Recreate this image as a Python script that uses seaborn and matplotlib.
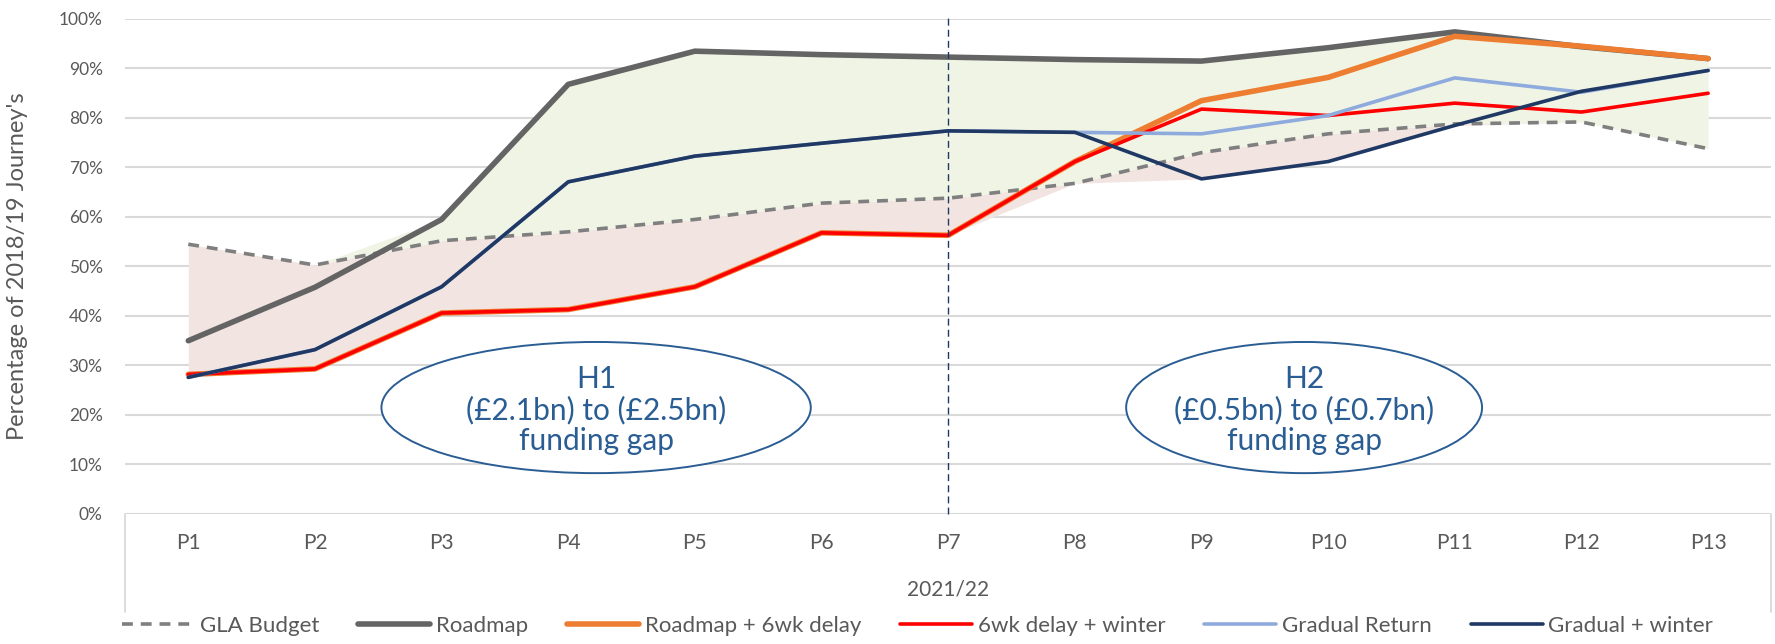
import numpy as np
import matplotlib
matplotlib.use("Agg")
import matplotlib.pyplot as plt
from matplotlib.patches import Ellipse
import seaborn as sns

# data (percent of 2018/19 journeys)
periods = ["P1", "P2", "P3", "P4", "P5", "P6", "P7", "P8", "P9", "P10", "P11", "P12", "P13"]
gla_budget = [54.5, 50.3, 55.2, 57.0, 59.5, 62.8, 63.8, 66.8, 73.0, 76.8, 78.8, 79.2, 73.8]
roadmap = [35.0, 45.8, 59.5, 86.8, 93.5, 92.8, 92.3, 91.8, 91.5, 94.2, 97.4, 94.4, 92.0]
roadmap_delay = [28.2, 29.3, 40.6, 41.3, 45.9, 56.8, 56.3, 71.2, 83.5, 88.2, 96.5, 94.5, 92.0]
delay_winter = [28.2, 29.3, 40.6, 41.3, 45.9, 56.8, 56.3, 71.2, 81.8, 80.5, 83.0, 81.2, 85.0]
gradual = [27.6, 33.2, 45.9, 67.1, 72.3, 74.9, 77.4, 77.1, 76.8, 80.5, 88.1, 85.2, 89.6]
gradual_winter = [27.6, 33.2, 45.9, 67.1, 72.3, 74.9, 77.4, 77.1, 67.7, 71.2, 78.5, 85.4, 89.6]
year_label = "2021/22"
gap_h1 = "H1\n(£2.1bn) to (£2.5bn)\nfunding gap"
gap_h2 = "H2\n(£0.5bn) to (£0.7bn)\nfunding gap"

sns.set_theme(style="white")
plt.rcParams['font.family'] = ['Lato', 'DejaVu Sans']

grey_txt = '#595959'
blue_txt = '#2A5D93'

fig = plt.figure(figsize=(17.75, 6.44), dpi=100)
ax = fig.add_axes([0.0704, 0.2019, 0.9276, 0.7686])

x = np.arange(len(periods))
budget = np.array(gla_budget)
scen = np.vstack([roadmap, roadmap_delay, delay_winter, gradual, gradual_winter])
low = np.minimum(scen.min(axis=0), budget)
high = np.maximum(scen.max(axis=0), budget)

# shaded bands between scenarios and budget
ax.fill_between(x, low, budget, color='#F2E4E1', lw=0, zorder=1)
ax.fill_between(x, budget, high, color='#EFF4E5', lw=0, zorder=1)

series = [
    ("GLA Budget", gla_budget, '#7F7F7F', 2.6, (0, (3, 2.2))),
    ("Roadmap", roadmap, '#646464', 4.0, '-'),
    ("Roadmap + 6wk delay", roadmap_delay, '#ED7D31', 4.0, '-'),
    ("6wk delay + winter", delay_winter, '#FF0000', 2.6, '-'),
    ("Gradual Return", gradual, '#8FAADC', 2.6, '-'),
    ("Gradual + winter", gradual_winter, '#1F3864', 2.6, '-'),
]
for i, (name, vals, col, lw, ls) in enumerate(series):
    sns.lineplot(x=x, y=vals, ax=ax, color=col, linewidth=lw, linestyle=ls,
                 label=name, zorder=3 + i, sort=False)

ax.set_xlim(-0.5, len(periods) - 0.5)
ax.set_ylim(0, 100)
ax.set_yticks(np.arange(0, 101, 10))
ax.set_yticklabels([f"{v}%" for v in range(0, 101, 10)], color=grey_txt, fontsize=12.5)
ax.set_xticks(x)
ax.set_xticklabels(periods, color=grey_txt, fontsize=15)
ax.tick_params(axis='both', length=0)
ax.tick_params(axis='y', pad=16)
ax.tick_params(axis='x', pad=14)
ax.yaxis.grid(True, color='#D9D9D9', lw=1.5, zorder=0)
ax.set_axisbelow(True)
for s in ax.spines.values():
    s.set_visible(False)
ax.set_ylabel("Percentage of 2018/19 Journey's", color=grey_txt, fontsize=17)
ax.yaxis.set_label_coords(-0.059, 0.5)
ax.set_xlabel("")

# category box below the axis
for xa in (0, 1):
    ax.plot([xa, xa], [0, -0.198], transform=ax.transAxes, color='#D9D9D9',
            lw=1.3, clip_on=False)
ax.text(0.5, -0.152, year_label, transform=ax.transAxes, ha='center', va='center',
        color=grey_txt, fontsize=15)

# P7 divider
ax.plot([6, 6], [0, 100.8], color='#1F3864', lw=1, ls=(0, (5, 3)), zorder=10, clip_on=False)

# funding gap bubbles
for cx, w, txt in [(3.22, 3.39, gap_h1), (8.81, 2.81, gap_h2)]:
    ax.add_patch(Ellipse((cx, 21.5), w, 26.5, facecolor='white', edgecolor=blue_txt,
                         lw=1.4, zorder=12))
    ax.text(cx, 21.0, txt, ha='center', va='center', color=blue_txt, fontsize=21.5,
            linespacing=1.12, zorder=13)

leg = ax.legend(loc='center', bbox_to_anchor=(0.517, 0.028), bbox_transform=fig.transFigure,
                ncol=6, frameon=False, fontsize=16, handlelength=3.25,
                handletextpad=0.25, columnspacing=1.75)
for t in leg.get_texts():
    t.set_color(grey_txt)

fig.savefig("out.png", dpi=100)
